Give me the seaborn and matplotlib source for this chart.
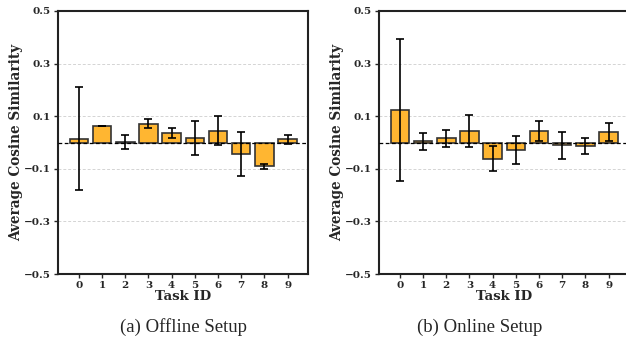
import matplotlib
matplotlib.use("Agg")
import matplotlib.pyplot as plt
import seaborn as sns
import pandas as pd

tasks = ["0", "1", "2", "3", "4", "5", "6", "7", "8", "9"]
offline_mean = [0.015, 0.062, 0.002, 0.072, 0.036, 0.017, 0.045, -0.043, -0.091, 0.012]
offline_err = [0.195, 0.001, 0.025, 0.016, 0.018, 0.064, 0.054, 0.083, 0.011, 0.016]
online_mean = [0.124, 0.004, 0.016, 0.043, -0.061, -0.028, 0.043, -0.010, -0.014, 0.040]
online_err = [0.271, 0.031, 0.032, 0.060, 0.048, 0.052, 0.039, 0.051, 0.030, 0.035]
yticks = [-0.5, -0.3, -0.1, 0.1, 0.3, 0.5]
ytick_labels = ["\u22120.5", "\u22120.3", "\u22120.1", "0.1", "0.3", "0.5"]
captions = ["(a) Offline Setup", "(b) Online Setup"]

sns.set_style("white")
plt.rcParams["font.family"] = ["DejaVu Serif"]

fig = plt.figure(figsize=(6.26, 3.41), dpi=100)
W, H = 626, 341
ax_specs = [(58, 250), (379, 250)]
cap_x = [183, 480]
bar_color = "#FFB631"

for i, (mean, err) in enumerate([(offline_mean, offline_err), (online_mean, online_err)]):
    left, width = ax_specs[i]
    ax = fig.add_axes([left / W, (H - 274) / H, width / W, 263 / H])
    df = pd.DataFrame({"task": tasks, "val": mean})
    sns.barplot(data=df, x="task", y="val", ax=ax, color=bar_color, saturation=1,
                width=0.8, edgecolor="#333333", linewidth=1.2, errorbar=None, zorder=2)
    ax.errorbar(range(len(tasks)), mean, yerr=err, fmt="none", ecolor="black",
                elinewidth=1.2, capsize=3, capthick=1.2, zorder=3)
    ax.axhline(0, color="black", linestyle=(0, (3, 2)), linewidth=0.9, zorder=4)
    ax.set_ylim(-0.5, 0.5)
    ax.set_xlim(-0.9, 9.88)
    ax.set_yticks(yticks)
    ax.set_yticklabels(ytick_labels)
    for y in [-0.3, -0.1, 0.1, 0.3]:
        ax.axhline(y, color="#d4d4d4", linestyle=(0, (3, 2)), linewidth=0.7, zorder=0)
    ax.tick_params(axis="both", labelsize=7.5, length=3, width=1, direction="out",
                   left=True, bottom=True, pad=2)
    for lab in ax.get_xticklabels() + ax.get_yticklabels():
        lab.set_fontweight("bold")
    ax.set_xlabel("Task ID", fontsize=9.5, fontweight="bold", labelpad=0)
    ax.set_ylabel("Average Cosine Similarity", fontsize=9.8, fontweight="bold", labelpad=1)
    for s in ax.spines.values():
        s.set_linewidth(1.5)
        s.set_color("#222222")
    fig.text(cap_x[i] / W, 1 - 327 / H, captions[i], ha="center", va="center",
             fontsize=13.5, family="Liberation Serif")

fig.savefig("out.png", dpi=100)
